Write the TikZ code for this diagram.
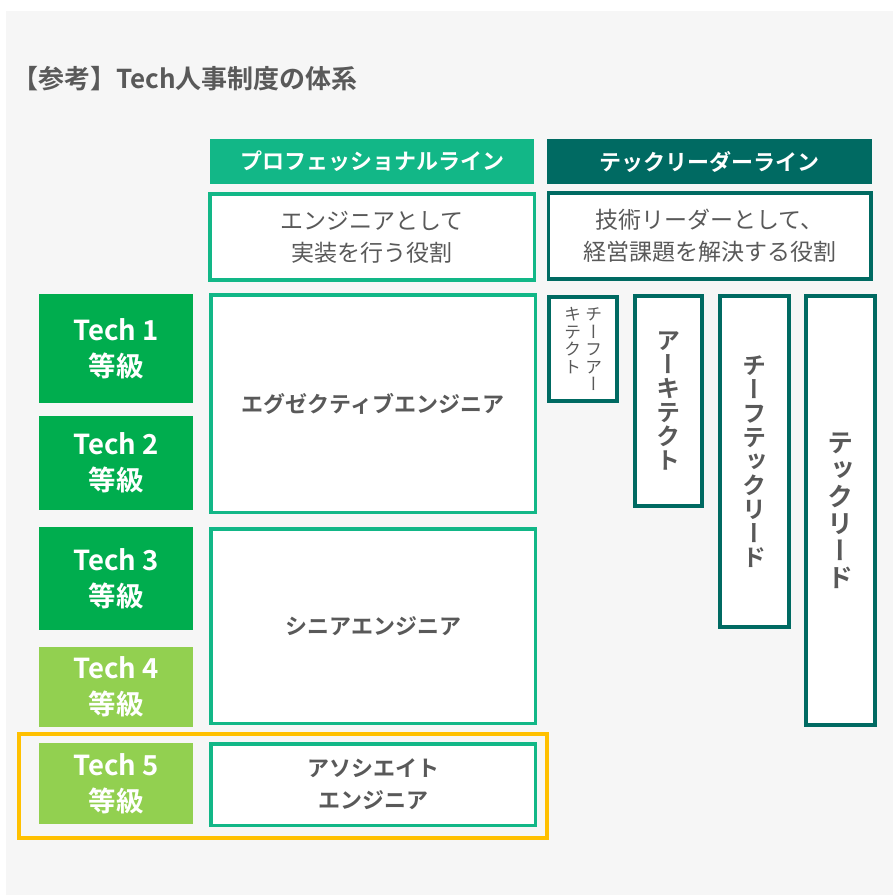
\documentclass[tikz,border=0pt]{standalone}
\usepackage{fontspec}
\setmainfont{Noto Sans CJK JP}[BoldFont = {Noto Sans CJK JP Bold}]
\newfontfamily\vjp{Noto Sans CJK JP}[RawFeature = +vert, BoldFont = {Noto Sans CJK JP Bold}]
\usetikzlibrary{positioning}
\definecolor{bgGray}{HTML}{F6F6F6}
\definecolor{proGreen}{HTML}{12B787}
\definecolor{leadTeal}{HTML}{006A62}
\definecolor{gradeDark}{HTML}{00AD4E}
\definecolor{gradeLight}{HTML}{92D050}
\definecolor{markYellow}{HTML}{FFC000}
\definecolor{textGray}{HTML}{595959}
\tikzstyle{header} = [rectangle, text centered, inner sep = 0, minimum height = 45pt, text = white, font = \bfseries\fontsize{22}{26}\selectfont]
\tikzstyle{desc} = [rectangle, align = center, inner sep = 0, fill = white, line width = 3.5pt, minimum height = 86pt, text = textGray, font = \fontsize{23}{32}\selectfont]
\tikzstyle{grade} = [rectangle, align = center, inner sep = 0, minimum width = 154pt, text = white, font = \bfseries\fontsize{27.5}{36}\selectfont]
\tikzstyle{prorole} = [rectangle, align = center, inner sep = 0, fill = white, draw = proGreen, line width = 3.5pt, minimum width = 324.5pt, text = textGray, font = \bfseries\fontsize{22}{32}\selectfont]
\tikzstyle{leadrole} = [rectangle, align = center, inner sep = 0, fill = white, draw = leadTeal, line width = 4pt, text = textGray, font = \vjp\bfseries\fontsize{24}{24}\selectfont]

\begin{document}
\begin{tikzpicture}[x = 1pt, y = -1pt]
    \useasboundingbox (0,0) rectangle (893,895);
    \fill [bgGray] (6,11) rectangle (893,895);
    \node (title) [anchor = west, inner sep = 0, text = textGray, font = \bfseries\fontsize{26}{28}\selectfont] at (12,79) {【参考】Tech人事制度の体系};
    \node (proHead) [header, fill = proGreen, minimum width = 324pt] at (372,161.5) {プロフェッショナルライン};
    \node (leadHead) [header, fill = leadTeal, minimum width = 325pt] at (709.5,161.5) {テックリーダーライン};
    \node (proDesc) [desc, draw = proGreen, minimum width = 324.5pt, below = 8pt of proHead] {エンジニアとして\\実装を行う役割};
    \node (leadDesc) [desc, draw = leadTeal, minimum width = 322.5pt, below = 7pt of leadHead] {技術リーダーとして、\\経営課題を解決する役割};
    \node (grade1) [grade, fill = gradeDark, minimum height = 109pt] at (116,348.5) {Tech 1\\等級};
    \node (grade2) [grade, fill = gradeDark, minimum height = 94pt] at (116,463) {Tech 2\\等級};
    \node (grade3) [grade, fill = gradeDark, minimum height = 103pt] at (116,578.5) {Tech 3\\等級};
    \node (grade4) [grade, fill = gradeLight, minimum height = 80pt] at (116,687) {Tech 4\\等級};
    \node (grade5) [grade, fill = gradeLight, minimum height = 81pt] at (116,783.5) {Tech 5\\等級};
    \node (execEng) [prorole, minimum height = 217.5pt] at (373,403.5) {エグゼクティブエンジニア};
    \node (seniorEng) [prorole, minimum height = 194.5pt] at (373,626) {シニアエンジニア};
    \node (assocEng) [prorole, minimum height = 81.5pt] at (373,784.5) {アソシエイト\\エンジニア};
    \node (chiefArch) [leadrole, minimum width = 68pt, minimum height = 104pt, font = \vjp\fontsize{17}{17.5}\selectfont] at (583,349) {\parbox[t]{17pt}{\centering キ\\テ\\ク\\ト}\hspace{4pt}\parbox[t]{17pt}{\centering チ\\ー\\フ\\ア\\ー}};
    \node (arch) [leadrole, minimum width = 67pt, minimum height = 210pt] at (668.5,401) {ア\\ー\\キ\\テ\\ク\\ト};
    \node (chiefLead) [leadrole, minimum width = 69pt, minimum height = 331pt] at (754.5,461.5) {チ\\ー\\フ\\テ\\ッ\\ク\\リ\\ー\\ド};
    \node (techLead) [leadrole, minimum width = 69pt, minimum height = 429pt, font = \vjp\bfseries\fontsize{26}{27}\selectfont] at (840.5,510.5) {テ\\ッ\\ク\\リ\\ー\\ド};
    \node (entryMark) [rectangle, draw = markYellow, line width = 4pt, minimum width = 528pt, minimum height = 104pt] at (283,786) {};
\end{tikzpicture}
\end{document}
